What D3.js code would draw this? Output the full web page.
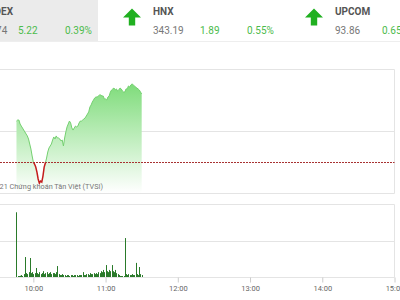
<!DOCTYPE html>
<html>
<head>
<meta charset="utf-8">
<script src="https://cdn.jsdelivr.net/npm/d3@7"></script>
<style>
  body { margin: 0; background: #fff; overflow: hidden; }
  svg { display: block; font-family: Roboto, Arial, sans-serif; }
</style>
</head>
<body>
<svg id="chart" width="400" height="300"></svg>
<script>
// header boxes
const indexNames    = ['VNINDEX', 'HNX', 'UPCOM'];
const indexValues   = ['1343.74', '343.19', '93.86'];
const indexChanges  = ['5.22', '1.89', '0.65'];
const indexPercents = ['0.39%', '0.55%', '0.70%'];

// intraday series, one point per minute from 09:46
const startLabel = '09:46';
const refPrice   = 1338.52;
const priceValues = [
    1341.71, 1341.79, 1341.79, 1341.48, 1341.32, 1341.17, 1341.01, 1340.86, 1340.70, 1340.55,
    1340.31, 1339.92, 1339.53, 1338.99, 1338.52, 1338.36, 1338.13, 1337.74, 1337.20, 1336.88,
    1337.04, 1336.96, 1337.43, 1338.13, 1338.44, 1338.83, 1339.30, 1339.61, 1339.77, 1339.92,
    1340.23, 1340.47, 1340.31, 1340.55, 1340.39, 1340.39, 1340.31, 1340.16, 1340.23, 1339.77,
    1340.39, 1340.86, 1341.25, 1341.48, 1341.71, 1341.56, 1341.17, 1341.01, 1341.17, 1341.32,
    1341.25, 1341.32, 1341.56, 1341.71, 1341.71, 1341.79, 1341.87, 1341.95, 1342.10, 1342.26,
    1342.42, 1342.80, 1342.96, 1343.19, 1343.35, 1343.51, 1343.58, 1343.58, 1343.66, 1343.74,
    1343.74, 1343.66, 1343.66, 1343.43, 1343.43, 1343.35, 1343.58, 1343.66, 1343.97, 1344.13,
    1344.21, 1344.28, 1344.13, 1344.21, 1344.05, 1344.13, 1344.28, 1344.21, 1344.05, 1343.97,
    1343.97, 1344.21, 1344.21, 1344.44, 1344.36, 1344.52, 1344.60, 1344.52, 1344.44, 1344.36,
    1344.28, 1344.21, 1344.13, 1343.97, 1343.82
];
const volumeValues = [
    1330,   20,   20,   25,   40,   20,   60,  410,   80,   60,
     100,  390,   80,  100,   60,   80,  185,   80,   60,  100,
      60,   80,  120,   60,   80,  100,   60,   80,  100,   60,
      80,   80,   60,  100,  225,   60,   40,   40,   60,   40,
      40,   20,   40,   40,   20,   40,   40,   20,   40,   40,
      40,   20,   40,   40,   40,  100,   40,   40,   60,   60,
      40,   80,   60,   60,   80,   60,   80,   60,  100,   80,
     120,  100,  145,  100,  245,  120,  100,  145,  120,  245,
     120,  100,  145,   80,   60,   40,   20,   20,   20,   20,
     800,   60,   40,   60,   40,   40,   60,   40,   40,  290,
      60,   40,  205,   60,   40
];

const timeTicks   = ['10:00', '11:00', '12:00', '13:00', '14:00', '15:00'];
const priceGrid   = [1336.11, 1340.93, 1345.76];
const volumeGrid  = [0, 750, 1500];
const creditText  = '© 2021 Chứng khoán Tân Việt (TVSI)';

const parseTime = d3.timeParse('%H:%M');
const t0        = parseTime(startLabel);
const prices    = priceValues.map((v, i) => ({ t: d3.timeMinute.offset(t0, i), v }));
const volumes   = volumeValues.map((v, i) => ({ t: d3.timeMinute.offset(t0, i), v }));

const svg    = d3.select('#chart');
const GRID   = '#e4e4e4';
const GREEN  = '#4cbb4c';
const right  = 394.5;

const x  = d3.scaleTime().domain([parseTime('09:00'), parseTime('15:00')]).range([-38.9, right]);
const yP = d3.scaleLinear().domain([priceGrid[0], priceGrid[2]]).range([193, 69]);
const yV = d3.scaleLinear().domain([volumeGrid[0], volumeGrid[2]]).range([277, 204]);

// ---- header ----
const cellX = [-29, 153, 335];
svg.append('rect').attr('x', -84).attr('y', 0).attr('width', 182).attr('height', 41).attr('fill', '#ebebeb');
svg.append('line').attr('x1', 0).attr('x2', 400).attr('y1', 41.5).attr('y2', 41.5)
    .attr('stroke', '#eeeeee');

indexNames.forEach((name, i) => {
    const cx = cellX[i];
    const g  = svg.append('g');
    g.append('path')
        .attr('transform', `translate(${cx - 21},8.5)`)
        .attr('d', 'M0,0L9,9L3.2,9L3.2,17L-3.2,17L-3.2,9L-9,9Z')
        .attr('fill', '#20b020');
    g.append('text').attr('x', cx).attr('y', 14.5)
        .attr('font-size', 10).attr('font-weight', 700).attr('fill', '#555')
        .text(name);
    g.append('text').attr('x', cx).attr('y', 33.5)
        .attr('font-size', 10).attr('fill', '#777')
        .text(indexValues[i]);
    g.append('text').attr('x', cx + 47).attr('y', 33.5)
        .attr('font-size', 10).attr('fill', GREEN)
        .text(indexChanges[i]);
    g.append('text').attr('x', cx + 94).attr('y', 33.5)
        .attr('font-size', 10).attr('fill', GREEN)
        .text(indexPercents[i]);
});

// ---- price panel ----
const defs = svg.append('defs');
const grad = defs.append('linearGradient').attr('id', 'fillGrad')
    .attr('gradientUnits', 'userSpaceOnUse')
    .attr('x1', 0).attr('x2', 0).attr('y1', 84).attr('y2', 193);
grad.append('stop').attr('offset', 0).attr('stop-color', '#7fdc7b');
grad.append('stop').attr('offset', 1).attr('stop-color', '#ffffff');

const refY = yP(refPrice);
defs.append('clipPath').attr('id', 'above')
    .append('rect').attr('x', 0).attr('y', 0).attr('width', 400).attr('height', refY);
defs.append('clipPath').attr('id', 'below')
    .append('rect').attr('x', 0).attr('y', refY).attr('width', 400).attr('height', 300 - refY);

priceGrid.forEach(v => {
    const yy = Math.round(yP(v)) + 0.5;
    svg.append('line').attr('x1', 0).attr('x2', right).attr('y1', yy).attr('y2', yy)
        .attr('stroke', GRID);
});
svg.append('line').attr('x1', right).attr('x2', right)
    .attr('y1', Math.round(yP(priceGrid[2])) + 0.5).attr('y2', Math.round(yP(priceGrid[0])) + 0.5)
    .attr('stroke', GRID);

const area = d3.area().x(d => x(d.t)).y0(yP(priceGrid[0])).y1(d => yP(d.v));
svg.append('path').datum(prices).attr('d', area).attr('fill', 'url(#fillGrad)');

const line = d3.line().x(d => x(d.t)).y(d => yP(d.v));
svg.append('path').datum(prices).attr('d', line)
    .attr('fill', 'none').attr('stroke', '#74d070').attr('stroke-width', 1)
    .attr('clip-path', 'url(#above)');
svg.append('path').datum(prices).attr('d', line)
    .attr('fill', 'none').attr('stroke', '#c41c1c').attr('stroke-width', 1.5)
    .attr('clip-path', 'url(#below)');

svg.append('line').attr('x1', 0).attr('x2', right)
    .attr('y1', Math.round(refY) + 0.5).attr('y2', Math.round(refY) + 0.5)
    .attr('stroke', '#a83232').attr('stroke-dasharray', '2,1');

svg.append('text').attr('x', 103).attr('y', 189)
    .attr('text-anchor', 'end').attr('font-size', 7.3).attr('fill', '#777')
    .text(creditText);

// ---- volume panel ----
volumeGrid.forEach(v => {
    const yy = Math.round(yV(v)) + 0.5;
    svg.append('line').attr('x1', 0).attr('x2', right).attr('y1', yy).attr('y2', yy)
        .attr('stroke', GRID);
});
svg.append('line').attr('x1', right).attr('x2', right)
    .attr('y1', Math.round(yV(volumeGrid[2])) + 0.5).attr('y2', Math.round(yV(0)) + 0.5)
    .attr('stroke', GRID);

svg.append('g').selectAll('line')
    .data(volumes)
    .join('line')
    .attr('x1', d => Math.round(x(d.t)) + 0.5)
    .attr('x2', d => Math.round(x(d.t)) + 0.5)
    .attr('y1', yV(0))
    .attr('y2', d => yV(d.v))
    .attr('stroke', '#2a7a2a').attr('stroke-width', 1);

const axis = svg.append('g')
    .attr('transform', `translate(0,${Math.round(yV(0)) + 0.5})`)
    .call(d3.axisBottom(x)
        .tickValues(timeTicks.map(parseTime))
        .tickFormat(d3.timeFormat('%H:%M'))
        .tickSize(5).tickPadding(3));
axis.select('.domain').remove();
axis.selectAll('.tick line').attr('stroke', '#cccccc');
axis.selectAll('.tick text').attr('font-size', 7.5).attr('fill', '#666')
    .attr('font-family', 'Roboto, Arial, sans-serif');
</script>
</body>
</html>
